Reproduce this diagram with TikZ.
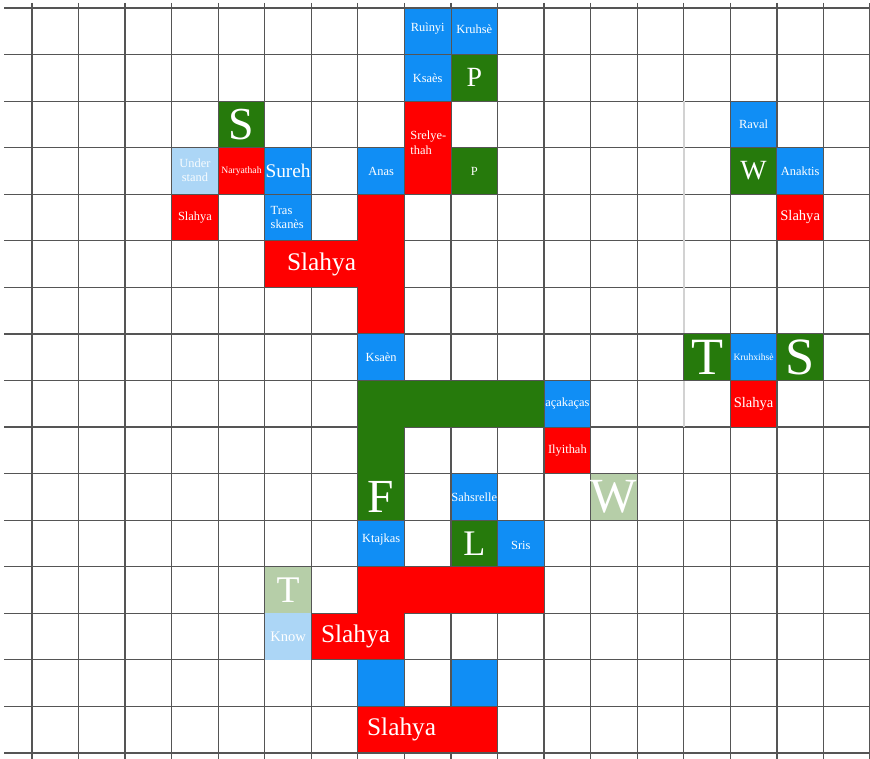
\documentclass[tikz,border=0pt]{standalone}
\usepackage{fontspec}
\setmainfont{Liberation Serif}
\usepackage{tikz}
\definecolor{cellblue}{RGB}{16, 142, 245}
\definecolor{cellred}{RGB}{255, 0, 0}
\definecolor{cellgreen}{RGB}{38, 122, 12}
\definecolor{paleblue}{RGB}{172, 214, 246}
\definecolor{palegreen}{RGB}{182, 206, 168}
\definecolor{gridline}{RGB}{85, 85, 85}

\begin{document}
\begin{tikzpicture}[
		gridrule/.style={gridline, line width=0.75pt},
		cell/.style={draw=gridline, line width=0.6pt},
		lbl/.style={text=white, inner sep=0pt, font=\fontsize{7.6}{8.8}\selectfont},
		tiny/.style={lbl, font=\fontsize{5.9}{7}\selectfont},
		mid/.style={lbl, font=\fontsize{8.9}{10}\selectfont},
		word/.style={lbl, font=\fontsize{15.5}{17}\selectfont},
		letter/.style={lbl, font=\fontsize{#1}{#1}\selectfont}
	]
	\useasboundingbox (-0.687, 0.172) rectangle (18, -16.116);
	
	% grid
	\foreach \c in {0,...,18}
		\draw[gridrule] (\c, 0.11) -- (\c, -16.2);
	\foreach \r in {0,...,16}
		\draw[gridrule] (-0.6, -\r) -- (18.1, -\r);
	\draw[gray!35, line width=1pt] (14, -2) -- (14, -9);
	
	% top column
	\fill[cellblue, cell] (8, 0) rectangle (9, -1);
	\fill[cellblue, cell] (9, 0) rectangle (10, -1);
	\fill[cellblue, cell] (8, -1) rectangle (9, -2);
	\fill[cellgreen, cell] (9, -1) rectangle (10, -2);
	\fill[cellred, cell] (8, -2) rectangle (9, -4);
	\fill[cellgreen, cell] (9, -3) rectangle (10, -4);
	
	% upper left group
	\fill[cellgreen, cell] (4, -2) rectangle (5, -3);
	\fill[paleblue] (3, -3) rectangle (4, -4);
	\fill[cellred, cell] (4, -3) rectangle (5, -4);
	\fill[cellblue, cell] (5, -3) rectangle (6, -4);
	\fill[cellblue, cell] (7, -3) rectangle (8, -4);
	\fill[cellred, cell] (3, -4) rectangle (4, -5);
	\fill[cellblue, cell] (5, -4) rectangle (6, -5);
	\fill[cellred, cell] (7, -4) -- (8, -4) -- (8, -7) -- (7, -7) -- (7, -6)
		-- (5, -6) -- (5, -5) -- (7, -5) -- cycle;
	\fill[cellblue, cell] (7, -7) rectangle (8, -8);
	
	% middle
	\fill[cellgreen, cell] (7, -8) -- (11, -8) -- (11, -9) -- (8, -9)
		-- (8, -11) -- (7, -11) -- cycle;
	\fill[cellblue, cell] (11, -8) rectangle (12, -9);
	\fill[cellred, cell] (11, -9) rectangle (12, -10);
	\fill[cellblue, cell] (9, -10) rectangle (10, -11);
	\fill[palegreen] (12, -10) rectangle (13, -11);
	\fill[cellblue, cell] (7, -11) rectangle (8, -12);
	\fill[cellgreen, cell] (9, -11) rectangle (10, -12);
	\fill[cellblue, cell] (10, -11) rectangle (11, -12);
	
	% lower
	\fill[palegreen] (5, -12) rectangle (6, -13);
	\fill[paleblue] (5, -13) rectangle (6, -14);
	\fill[cellred, cell] (7, -12) -- (11, -12) -- (11, -13) -- (8, -13)
		-- (8, -14) -- (6, -14) -- (6, -13) -- (7, -13) -- cycle;
	\fill[cellblue, cell] (7, -14) rectangle (8, -15);
	\fill[cellblue, cell] (9, -14) rectangle (10, -15);
	\fill[cellred, cell] (7, -15) rectangle (10, -16);
	
	% right side
	\fill[cellblue, cell] (15, -2) rectangle (16, -3);
	\fill[cellgreen, cell] (15, -3) rectangle (16, -4);
	\fill[cellblue, cell] (16, -3) rectangle (17, -4);
	\fill[cellred, cell] (16, -4) rectangle (17, -5);
	\fill[cellgreen, cell] (14, -7) rectangle (15, -8);
	\fill[cellblue, cell] (15, -7) rectangle (16, -8);
	\fill[cellgreen, cell] (16, -7) rectangle (17, -8);
	\fill[cellred, cell] (15, -8) rectangle (16, -9);
	
	% labels
	\node[lbl] (ruinyi) at (8.5, -0.45) {Ruìnyi};
	\node[lbl] (kruhse) at (9.5, -0.45) {Kruhsè};
	\node[lbl] (ksaes) at (8.5, -1.5) {Ksaès};
	\node[letter=17] (pbig) at (9.5, -1.5) {P};
	\node[lbl, anchor=west, align=left] (srelye) at (8.12, -2.89) {Srelye-\\thah};
	\node[lbl] (psmall) at (9.5, -3.5) {P};
	
	\node[letter=28] (sleft) at (4.5, -2.5) {S};
	\node[lbl, text=white!92!paleblue, align=center] (understand) at (3.5, -3.48) {Under\\stand};
	\node[tiny] (naryathah) at (4.5, -3.5) {Naryathah};
	\node[lbl, font=\fontsize{11.8}{13}\selectfont] (sureh) at (5.5, -3.5) {Sureh};
	\node[lbl] (anas) at (7.5, -3.5) {Anas};
	\node[lbl] (slahyaa) at (3.5, -4.5) {Slahya};
	\node[lbl, anchor=west, align=left] (trasskanes) at (5.12, -4.5) {Tras\\skanès};
	\node[word] (slahyab) at (6.22, -5.5) {Slahya};
	\node[lbl] (ksaen) at (7.5, -7.5) {Ksaèn};
	
	\node[lbl] (acakacas) at (11.5, -8.5) {açakaças};
	\node[lbl] (ilyithah) at (11.5, -9.5) {Ilyithah};
	\node[letter=29] (fgreen) at (7.5, -10.5) {F};
	\node[lbl] (sahsrelle) at (9.5, -10.5) {Sahsrelle};
	\node[letter=30] (wpale) at (12.5, -10.5) {W};
	\node[lbl] (ktajkas) at (7.5, -11.42) {Ktajkas};
	\node[letter=22] (lgreen) at (9.5, -11.5) {L};
	\node[lbl] (sris) at (10.5, -11.55) {Sris};
	
	\node[letter=23] (tpale) at (5.5, -12.5) {T};
	\node[mid] (know) at (5.5, -13.5) {Know};
	\node[word] (slahyac) at (6.95, -13.5) {Slahya};
	\node[word] (slahyad) at (7.94, -15.5) {Slahya};
	
	\node[lbl] (raval) at (15.5, -2.5) {Raval};
	\node[letter=17] (wgreen) at (15.5, -3.5) {W};
	\node[lbl] (anaktis) at (16.5, -3.5) {Anaktis};
	\node[mid] (slahyae) at (16.5, -4.5) {Slahya};
	\node[letter=32] (tgreen) at (14.5, -7.5) {T};
	\node[tiny] (kruhxihse) at (15.5, -7.5) {Kruhxihsè};
	\node[letter=32] (sright) at (16.5, -7.5) {S};
	\node[mid] (slahyaf) at (15.5, -8.5) {Slahya};
	
\end{tikzpicture}
\end{document}
